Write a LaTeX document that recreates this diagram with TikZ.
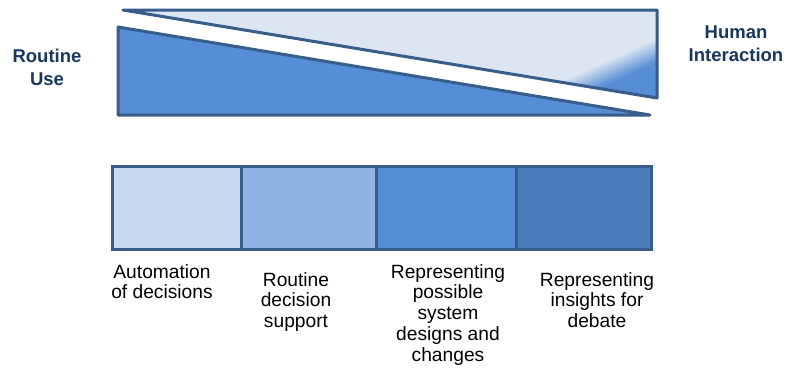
\documentclass[tikz,border=0pt]{standalone}
\usepackage{fontspec}
\setmainfont{Liberation Sans}
\definecolor{edge}{HTML}{385D8A}
\definecolor{pale}{HTML}{DCE6F2}
\definecolor{midblue}{HTML}{558ED5}
\definecolor{stageA}{HTML}{C6D9F1}
\definecolor{stageB}{HTML}{8EB4E3}
\definecolor{stageC}{HTML}{558ED5}
\definecolor{stageD}{HTML}{4A7EBB}
\definecolor{titleblue}{HTML}{17375E}
\begin{document}
\begin{tikzpicture}[x=1pt,y=-1pt,
  wedge/.style={draw=edge,line width=3pt,line join=round},
  stagebox/.style={draw=edge,line width=3pt,minimum height=83pt,inner sep=0pt,outer sep=0pt,anchor=north west},
  endtitle/.style={font=\fontsize{18.5}{22.5}\selectfont\bfseries,text=titleblue,align=center,inner sep=0pt,anchor=north},
  stagelabel/.style={font=\fontsize{19.2}{20.8}\selectfont,text=black,align=center,inner sep=0pt,anchor=north}]
\useasboundingbox (0,0) rectangle (786,370);

% corner points of the two wedges
\coordinate (ht) at (123,10);
\coordinate (hr) at (657,10);
\coordinate (hb) at (657,98);
\coordinate (rt) at (118,27);
\coordinate (rb) at (118,115);
\coordinate (rr) at (650,115);

% upper wedge: pale fill that turns blue in its lower right corner
\begin{scope}
  \clip (ht) -- (hr) -- (hb) -- cycle;
  \fill[pale] (ht) -- (hr) -- (hb) -- cycle;
  \begin{scope}[transform canvas={rotate around={24:(627,63)}}]
    \shade[top color=pale,bottom color=midblue] (500,52) rectangle (760,74);
    \fill[midblue] (500,74) rectangle (760,140);
  \end{scope}
\end{scope}
\draw[wedge] (ht) -- (hr) -- (hb) -- cycle;

% lower wedge
\filldraw[wedge,fill=midblue] (rt) -- (rb) -- (rr) -- cycle;

% end titles
\node[endtitle] (routine) at (47,49) {Routine\\Use};
\node[endtitle] (human) at (736,26) {Human\\Interaction};

% row of four stages
\node[stagebox,fill=stageA,minimum width=129pt] (s1) at (112,166) {};
\node[stagebox,fill=stageB,minimum width=135pt] (s2) at (241,166) {};
\node[stagebox,fill=stageC,minimum width=140pt] (s3) at (376,166) {};
\node[stagebox,fill=stageD,minimum width=135pt] (s4) at (516,166) {};

% stage captions
\node[stagelabel] (l1) at (162,264) {Automation\\of decisions};
\node[stagelabel] (l2) at (296,272) {Routine\\decision\\support};
\node[stagelabel] (l3) at (448,264) {Representing\\possible\\system\\designs and\\changes};
\node[stagelabel] (l4) at (597,272) {Representing\\insights for\\debate};
\end{tikzpicture}
\end{document}
